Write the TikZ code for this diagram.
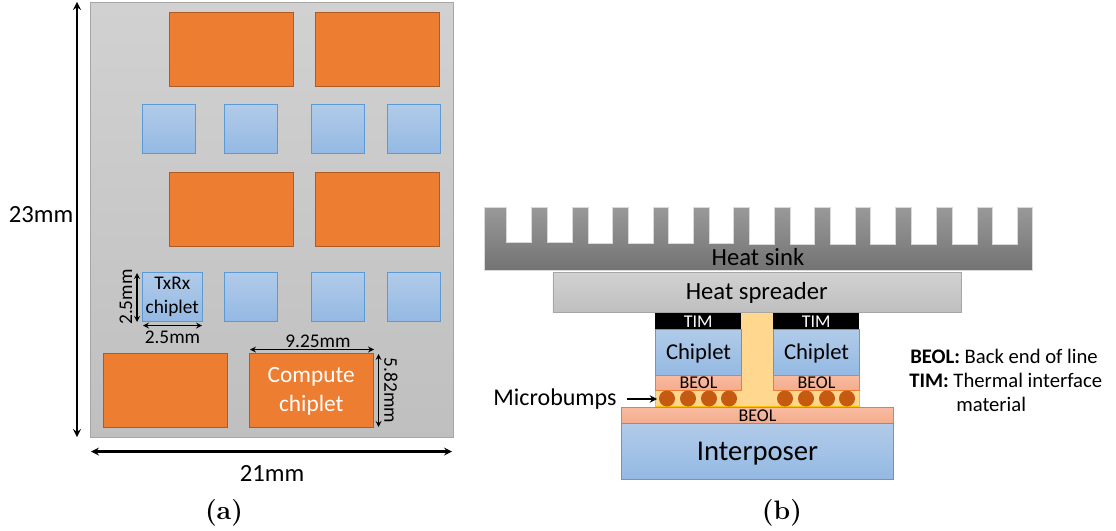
\documentclass[tikz,border=0pt]{standalone}
\usepackage{fontspec}
\newfontfamily\calibri{Carlito}
\usetikzlibrary{arrows}
\definecolor{orangefill}{HTML}{ED7D31}
\definecolor{orangeline}{HTML}{AE5A21}
\definecolor{bluetop}{HTML}{B1CBE9}
\definecolor{bluebot}{HTML}{94B9E3}
\definecolor{blueline}{HTML}{5B9BD5}
\definecolor{beoltop}{HTML}{F8BBA0}
\definecolor{beolbot}{HTML}{F4AB8C}
\definecolor{bumpfill}{HTML}{C55A11}
\definecolor{timfill}{HTML}{FFD78F}
\definecolor{underline}{HTML}{FFC000}
\tikzset{bluechip/.style={draw=blueline, top color=bluetop, bottom color=bluebot, minimum width=40pt, minimum height=36.75pt, inner sep=0pt, anchor=north west},
         orangechip/.style={draw=orangeline, fill=orangefill, minimum width=93pt, minimum height=55.5pt, inner sep=0pt, anchor=north west},
         beollayer/.style={draw=orangefill, thick, top color=beoltop, bottom color=beolbot, inner sep=0pt, anchor=north west, font=\calibri\fontsize{13.5}{13.5}\selectfont},
         bump/.style={circle, fill=bumpfill, minimum size=12pt, inner sep=0pt},
         timlayer/.style={fill=black, text=white, minimum width=64.5pt, minimum height=12pt, inner sep=0pt, anchor=north west, font=\calibri\fontsize{13.5}{13.5}\selectfont},
         diechip/.style={draw=blueline, thick, top color=bluetop, bottom color=bluebot, minimum width=64.5pt, minimum height=34.5pt, inner sep=0pt, anchor=north west, text depth=2pt, font=\calibri\fontsize{17}{17}\selectfont},
         dimlabel/.style={font=\calibri\fontsize{14.5}{14.5}\selectfont, inner sep=0pt},
         biglabel/.style={font=\calibri\fontsize{18.5}{18.5}\selectfont, inner sep=0pt},
         legendtext/.style={font=\calibri\fontsize{15.5}{15.5}\selectfont, inner sep=0pt, anchor=west},
         sublabel/.style={font=\fontsize{20}{20}\selectfont\bfseries, inner sep=0pt},
         dimarrow/.style={<->, >=stealth, line width=1pt},
         longarrow/.style={<->, >=stealth, line width=1.6pt}}
\begin{document}
\begin{tikzpicture}[x=0.75pt, y=-0.75pt]
    \useasboundingbox (0,0) rectangle (1116,531);

    % (a) package top view
    \node[draw=black!35, top color=black!18, bottom color=black!25, minimum width=272.25pt, minimum height=326.25pt, inner sep=0pt, anchor=north west] (substrate) at (90,2) {};

    \node[orangechip] (c1) at (169,12) {};
    \node[orangechip] (c2) at (315,12) {};
    \node[orangechip] (c3) at (169,172) {};
    \node[orangechip] (c4) at (315,172) {};
    \node[orangechip] (c5) at (103,353) {};
    \node[orangechip, text=white, align=center, text depth=1pt, font=\calibri\fontsize{17.5}{21.5}\selectfont] (c6) at (249,353) {Compute\\chiplet};

    \node[bluechip] (t1) at (142,104) {};
    \node[bluechip] (t2) at (224,104) {};
    \node[bluechip] (t3) at (311,104) {};
    \node[bluechip] (t4) at (387,104) {};
    \node[bluechip, minimum width=45pt, align=center, text depth=2pt, font=\calibri\fontsize{14.5}{17.5}\selectfont] (t5) at (142,272) {TxRx\\chiplet};
    \node[bluechip] (t6) at (224,272) {};
    \node[bluechip] (t7) at (311,272) {};
    \node[bluechip] (t8) at (387,272) {};

    \coordinate (h1) at (77,2);
    \coordinate (h2) at (77,437);
    \coordinate (w1) at (91,451.5);
    \coordinate (w2) at (452,451.5);
    \coordinate (s1) at (137,273);
    \coordinate (s2) at (137,322);
    \coordinate (s3) at (143,325.5);
    \coordinate (s4) at (202,325.5);
    \coordinate (d1) at (250,349.5);
    \coordinate (d2) at (374,349.5);
    \coordinate (d3) at (378.5,354);
    \coordinate (d4) at (378.5,427);

    \draw[longarrow] (h1) -- (h2);
    \draw[longarrow] (w1) -- (w2);
    \draw[dimarrow] (s1) -- (s2);
    \draw[dimarrow] (s3) -- (s4);
    \draw[dimarrow] (d1) -- (d2);
    \draw[dimarrow] (d3) -- (d4);

    \node[biglabel] (l23) at (41,215) {23mm};
    \node[biglabel] (l21) at (272,473) {21mm};
    \node[dimlabel, rotate=90] (ls1) at (126,297) {2.5mm};
    \node[dimlabel] (ls2) at (172.5,337) {2.5mm};
    \node[dimlabel] (ld1) at (318,341) {9.25mm};
    \node[dimlabel, rotate=-90] (ld2) at (391,390.5) {5.82mm};
    \node[sublabel] (capa) at (224,513) {(a)};

    % (b) cross section
    \shade[top color=black!40, bottom color=black!55, draw=black!15]
        (484,207) -- (506,207) -- (506,242) -- (531,242) -- (531,207) -- (547,207) -- (547,242)
        -- (572,242) -- (572,207) -- (588,207) -- (588,243) -- (612,243) -- (612,207) -- (628,207) -- (628,243)
        -- (653,243) -- (653,207) -- (668,207) -- (668,243.5) -- (693,243.5) -- (693,207) -- (709,207) -- (709,243.5)
        -- (733,243.5) -- (733,207) -- (749,207) -- (749,244) -- (774,244) -- (774,207) -- (790,207) -- (790,244)
        -- (814,244) -- (814,207) -- (830,207) -- (830,244) -- (855,244) -- (855,207) -- (870,207) -- (870,244)
        -- (895,244) -- (895,207) -- (911,207) -- (911,244) -- (936,244) -- (936,207) -- (952,207) -- (952,244)
        -- (977,244) -- (977,207) -- (992,207) -- (992,244) -- (1017,244) -- (1017,207) -- (1032,207)
        -- (1032,270.5) -- (484,270.5) -- cycle;
    \node[biglabel] (sink) at (758,257) {Heat sink};

    \node[draw=black!35, top color=black!18, bottom color=black!25, minimum width=306pt, minimum height=30pt, inner sep=0pt, anchor=north west, text depth=2pt, font=\calibri\fontsize{18.5}{18.5}\selectfont] (spreader) at (552.5,272) {Heat spreader};

    \node[fill=timfill, draw=underline, minimum width=153pt, minimum height=12pt, inner sep=0pt, anchor=north west] (underfill) at (655,390) {};
    \node[fill=timfill, minimum width=24pt, minimum height=59.25pt, inner sep=0pt, anchor=north west] (gap) at (741,313) {};

    \node[timlayer] (tim1) at (655,313) {TIM};
    \node[timlayer] (tim2) at (773,313) {TIM};
    \node[diechip] (chip1) at (655,329) {Chiplet};
    \node[diechip] (chip2) at (773,329) {Chiplet};
    \node[beollayer, minimum width=64.5pt, minimum height=11.25pt] (beol1) at (655,375) {BEOL};
    \node[beollayer, minimum width=64.5pt, minimum height=11.25pt] (beol2) at (773,375) {BEOL};

    \node[bump] (b1) at (667,398.5) {};
    \node[bump] (b2) at (688,398.5) {};
    \node[bump] (b3) at (709,398.5) {};
    \node[bump] (b4) at (729,398.5) {};
    \node[bump] (b5) at (785,398.5) {};
    \node[bump] (b6) at (806,398.5) {};
    \node[bump] (b7) at (827,398.5) {};
    \node[bump] (b8) at (847,398.5) {};

    \node[beollayer, minimum width=204pt, minimum height=12pt] (beol3) at (621,407) {BEOL};
    \node[draw=blueline, thick, top color=bluetop, bottom color=bluebot, minimum width=204pt, minimum height=42pt, inner sep=0pt, anchor=north west, text depth=0pt, font=\calibri\fontsize{21.5}{21.5}\selectfont] (interposer) at (621,423) {Interposer};

    \node[font=\calibri\fontsize{18}{18}\selectfont, inner sep=0pt] (bumplabel) at (555,399) {Microbumps};
    \coordinate (bumpstart) at (627,399);
    \coordinate (bumpend) at (657,399);
    \draw[->, >=stealth, line width=1.4pt] (bumpstart) -- (bumpend);

    \node[legendtext] (legend1) at (910,356) {\textbf{BEOL:} Back end of line};
    \node[legendtext] (legend2) at (909,380) {\textbf{TIM:} Thermal interface};
    \node[legendtext] (legend3) at (956,404) {material};
    \node[sublabel] (capb) at (782,513) {(b)};
\end{tikzpicture}
\end{document}
